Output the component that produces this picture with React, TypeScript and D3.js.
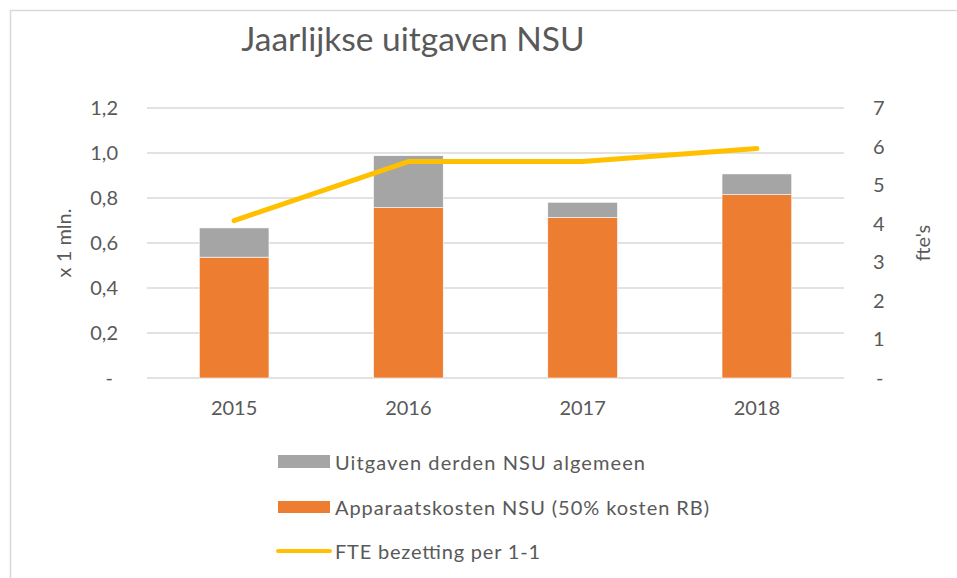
import React from "react";
import * as d3 from "d3";

const years = ["2015", "2016", "2017", "2018"];
const apparaatskosten = [0.537, 0.757, 0.713, 0.815];
const uitgavenDerden = [0.13, 0.231, 0.068, 0.092];
const fte = [4.08, 5.61, 5.61, 5.95];
const leftTicks = [0, 0.2, 0.4, 0.6, 0.8, 1.0, 1.2];
const rightTicks = [0, 1, 2, 3, 4, 5, 6, 7];

const W = 957;
const H = 578;
const plot = { left: 147, right: 844, top: 108, bottom: 378 };
const FONT = "Lato, 'Open Sans', sans-serif";
const TXT = "#595959";
const FS = 20;

export default function App() {
  const band = d3.scaleBand<string>().domain(years).range([plot.left, plot.right]);
  const yL = d3.scaleLinear().domain([0, 1.2]).range([plot.bottom, plot.top]);
  const yR = d3.scaleLinear().domain([0, 7]).range([plot.bottom, plot.top]);
  const barW = band.bandwidth() / 2.5;
  const cx = (y: string) => (band(y) as number) + band.bandwidth() / 2;
  const line = d3.line<number>().x((_, i) => cx(years[i])).y((v) => yR(v));
  const fmtL = (v: number) => (v === 0 ? "-" : d3.format(".1f")(v).replace(".", ","));
  const fmtR = (v: number) => (v === 0 ? "-" : String(v));

  return (
    <svg width={W} height={H} style={{ position: "absolute", left: 0, top: 0, fontFamily: FONT }}>
      <rect x={10.5} y={10.5} width={W} height={H} fill="#fff" stroke="#D9D9D9" strokeWidth={1.5} />
      <text x={413} y={51} textAnchor="middle" fontSize={33.5} fill={TXT}>Jaarlijkse uitgaven NSU</text>
      {leftTicks.map((t) => (
        <line key={t} x1={plot.left} x2={plot.right} y1={yL(t)} y2={yL(t)} stroke="#D9D9D9" strokeWidth={1.3} />
      ))}
      {years.map((yr, i) => {
        const x0 = cx(yr) - barW / 2;
        const a = apparaatskosten[i];
        const b = uitgavenDerden[i];
        return (
          <g key={yr}>
            <rect x={x0} y={yL(a)} width={barW} height={yL(0) - yL(a)} fill="#ED7D31" stroke="#fff" strokeWidth={0.6} />
            <rect x={x0} y={yL(a + b)} width={barW} height={yL(a) - yL(a + b)} fill="#A5A5A5" stroke="#fff" strokeWidth={0.6} />
          </g>
        );
      })}
      <path d={line(fte) as string} fill="none" stroke="#FFC000" strokeWidth={5} strokeLinecap="round" strokeLinejoin="round" />
      {leftTicks.map((t) => (
        <text key={t} x={t === 0 ? 113 : 118} y={yL(t) + 7} textAnchor="end" fontSize={FS} fill={TXT}>{fmtL(t)}</text>
      ))}
      {rightTicks.map((t) => (
        <text key={t} x={t === 0 ? 876 : 873} y={yR(t) + 7} textAnchor="start" fontSize={FS} fill={TXT}>{fmtR(t)}</text>
      ))}
      {years.map((yr) => (
        <text key={yr} x={cx(yr)} y={415} textAnchor="middle" fontSize={FS} fill={TXT}>{yr}</text>
      ))}
      <text transform={`translate(71,243) rotate(-90)`} textAnchor="middle" fontSize={FS} fill={TXT}>x 1 mln.</text>
      <text transform={`translate(930,243) rotate(-90)`} textAnchor="middle" fontSize={FS} fill={TXT}>fte's</text>
      <rect x={278} y={455} width={52} height={13} fill="#A5A5A5" />
      <text x={335} y={470} fontSize={FS} fill={TXT} textLength={310} lengthAdjust="spacing">Uitgaven derden NSU algemeen</text>
      <rect x={278} y={501} width={52} height={12} fill="#ED7D31" />
      <text x={335} y={515} fontSize={FS} fill={TXT} textLength={374} lengthAdjust="spacing">Apparaatskosten NSU (50% kosten RB)</text>
      <line x1={278} x2={330} y1={551} y2={551} stroke="#FFC000" strokeWidth={4} strokeLinecap="round" />
      <text x={335} y={559} fontSize={FS} fill={TXT} textLength={205} lengthAdjust="spacing">FTE bezetting per 1-1</text>
    </svg>
  );
}
